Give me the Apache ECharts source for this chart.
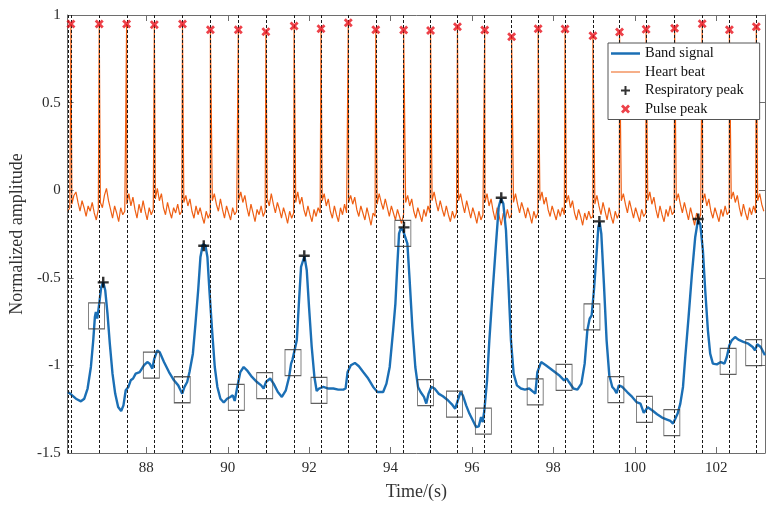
<!DOCTYPE html>
<html>
<head>
<meta charset="utf-8">
<script src="https://cdn.jsdelivr.net/npm/echarts@6/dist/echarts.min.js"></script>
<style>html,body{margin:0;padding:0;background:#fff}#c{width:777px;height:507px}</style>
</head>
<body>
<div id="c"></div>
<script>
// ---- data ----
var xTicks = [88, 90, 92, 94, 96, 98, 100, 102];
var xMin = 86.066, xMax = 103.2;
var yMin = -1.5, yMax = 1, yStep = 0.5;

// pulse (heart) peaks
var pulseT = [86.147, 86.842, 87.515, 88.196, 88.888, 89.574, 90.259, 90.937, 91.630, 92.291,
  92.961, 93.637, 94.322, 94.983, 95.644, 96.314, 96.975, 97.626, 98.287, 98.972,
  99.626, 100.279, 100.979, 101.657, 102.325, 102.986];
var pulseY = [0.949, 0.949, 0.949, 0.945, 0.949, 0.916, 0.916, 0.905, 0.937, 0.922,
  0.956, 0.916, 0.914, 0.912, 0.933, 0.914, 0.876, 0.922, 0.920, 0.882,
  0.903, 0.918, 0.924, 0.950, 0.916, 0.933];

// dashed guide lines (pulse peaks plus the record start)
var guideT = [86.084].concat(pulseT);

// respiratory peaks
var respT = [86.94, 89.41, 91.88, 94.33, 96.72, 99.13, 101.56];
var respY = [-0.526, -0.317, -0.374, -0.212, -0.043, -0.178, -0.164];

// boxed points on the band signal
var boxT = [86.776, 88.122, 88.881, 90.210, 90.908, 91.603, 92.242, 94.302, 94.861, 95.570,
  96.280, 97.553, 98.263, 98.948, 99.536, 100.238, 100.911, 102.294, 102.923];
var boxY = [-0.717, -0.999, -1.139, -1.182, -1.116, -0.984, -1.142, -0.247, -1.155, -1.221,
  -1.318, -1.151, -1.068, -0.723, -1.138, -1.251, -1.326, -0.977, -0.927];

// heart beat baseline samples (start time, sample step, values)
var heartStart = 86.07, heartStep = 0.05;
var heartNoise = [
  -0.12,-0.10,-0.08,-0.03,-0.01,-0.07,-0.12,-0.06,-0.10,-0.15,-0.09,-0.12,-0.07,-0.13,-0.17,-0.11,-0.07,-0.10,-0.03,0.01,
  -0.06,-0.11,-0.16,-0.09,-0.13,-0.18,-0.10,-0.14,-0.12,-0.08,-0.02,-0.09,-0.04,-0.11,-0.16,-0.08,-0.13,-0.06,-0.12,-0.17,
  -0.10,-0.14,-0.11,-0.05,0.01,-0.06,-0.02,-0.10,-0.14,-0.07,-0.12,-0.16,-0.10,-0.13,-0.08,-0.14,-0.12,-0.07,-0.03,-0.09,
  -0.05,-0.12,-0.16,-0.09,-0.14,-0.10,-0.15,-0.19,-0.12,-0.16,-0.13,-0.06,-0.02,-0.08,-0.12,-0.05,-0.11,-0.16,-0.09,-0.13,
  -0.17,-0.10,-0.14,-0.12,-0.06,-0.01,-0.07,-0.03,-0.10,-0.15,-0.08,-0.13,-0.18,-0.11,-0.14,-0.09,-0.15,-0.12,-0.05,-0.09,
  -0.02,-0.08,-0.13,-0.07,-0.11,-0.16,-0.10,-0.14,-0.19,-0.12,-0.16,-0.13,-0.07,-0.01,-0.08,-0.04,-0.11,-0.15,-0.09,-0.14,
  -0.18,-0.11,-0.15,-0.10,-0.13,-0.06,-0.02,-0.09,-0.05,-0.12,-0.16,-0.09,-0.14,-0.18,-0.10,-0.14,-0.08,-0.13,-0.07,-0.03,
  -0.08,-0.04,-0.11,-0.15,-0.09,-0.13,-0.17,-0.10,-0.15,-0.20,-0.13,-0.15,-0.08,-0.02,-0.07,-0.11,-0.05,-0.10,-0.15,-0.09,
  -0.13,-0.17,-0.11,-0.15,-0.19,-0.14,-0.07,-0.03,-0.09,-0.05,-0.12,-0.16,-0.10,-0.14,-0.18,-0.11,-0.15,-0.09,-0.13,-0.06,
  -0.01,-0.07,-0.12,-0.06,-0.11,-0.15,-0.09,-0.14,-0.18,-0.12,-0.16,-0.13,-0.06,-0.02,-0.08,-0.13,-0.06,-0.11,-0.16,-0.10,
  -0.14,-0.19,-0.12,-0.17,-0.14,-0.07,-0.02,-0.09,-0.05,-0.12,-0.17,-0.10,-0.15,-0.20,-0.13,-0.17,-0.11,-0.16,-0.14,-0.07,
  -0.02,-0.08,-0.13,-0.07,-0.11,-0.16,-0.10,-0.14,-0.19,-0.12,-0.16,-0.13,-0.06,-0.01,-0.08,-0.04,-0.11,-0.15,-0.09,-0.13,
  -0.17,-0.11,-0.15,-0.10,-0.14,-0.07,-0.03,-0.10,-0.06,-0.13,-0.17,-0.11,-0.15,-0.20,-0.13,-0.17,-0.12,-0.16,-0.15,-0.08,
  -0.03,-0.09,-0.14,-0.07,-0.12,-0.17,-0.10,-0.15,-0.19,-0.12,-0.16,-0.13,-0.06,-0.02,-0.08,-0.13,-0.06,-0.11,-0.16,-0.10,
  -0.14,-0.18,-0.11,-0.15,-0.13,-0.06,-0.01,-0.08,-0.04,-0.11,-0.16,-0.09,-0.14,-0.18,-0.11,-0.15,-0.09,-0.14,-0.12,-0.06,
  -0.02,-0.08,-0.13,-0.07,-0.12,-0.17,-0.10,-0.15,-0.20,-0.13,-0.17,-0.14,-0.07,-0.02,-0.09,-0.05,-0.12,-0.16,-0.10,-0.14,
  -0.18,-0.11,-0.15,-0.09,-0.14,-0.12,-0.05,-0.01,-0.07,-0.03,-0.10,-0.15,-0.08,-0.13,-0.17,-0.10,-0.14,-0.09,-0.13,-0.06,
  -0.02,-0.08,-0.12
];

// band signal trace [time, amplitude]
var bandSignal = [
  [86.07,-1.152],[86.147,-1.165],[86.270,-1.190],[86.392,-1.205],[86.475,-1.190],[86.556,-1.132],[86.637,-1.009],
  [86.695,-0.857],[86.735,-0.724],[86.759,-0.695],[86.793,-0.733],[86.842,-0.647],[86.891,-0.553],[86.940,-0.524],
  [86.989,-0.571],[87.045,-0.704],[87.102,-0.876],[87.168,-1.047],[87.234,-1.161],[87.307,-1.237],[87.381,-1.260],
  [87.437,-1.228],[87.493,-1.142],[87.559,-1.123],[87.616,-1.085],[87.674,-1.075],[87.738,-1.047],[87.836,-1.038],
  [87.944,-0.999],[88.024,-0.981],[88.081,-0.990],[88.147,-1.018],[88.196,-0.961],[88.269,-0.914],[88.326,-0.924],
  [88.433,-0.981],[88.556,-1.038],[88.678,-1.085],[88.783,-1.114],[88.840,-1.142],[88.881,-1.161],[88.937,-1.123],
  [89.003,-1.095],[89.060,-1.038],[89.143,-0.933],[89.207,-0.761],[89.273,-0.571],[89.329,-0.381],[89.388,-0.309],
  [89.451,-0.315],[89.500,-0.381],[89.549,-0.571],[89.615,-0.800],[89.681,-1.009],[89.745,-1.123],[89.819,-1.190],
  [89.902,-1.212],[89.983,-1.190],[90.063,-1.180],[90.122,-1.171],[90.171,-1.203],[90.227,-1.132],[90.308,-1.038],
  [90.391,-1.009],[90.472,-1.028],[90.594,-1.066],[90.717,-1.095],[90.822,-1.114],[90.881,-1.132],[90.937,-1.095],
  [91.042,-1.075],[91.126,-1.104],[91.231,-1.152],[91.329,-1.180],[91.427,-1.142],[91.507,-1.066],[91.556,-0.990],
  [91.591,-0.967],[91.640,-0.971],[91.696,-0.857],[91.752,-0.628],[91.801,-0.438],[91.884,-0.377],[91.941,-0.457],
  [91.997,-0.667],[92.063,-0.895],[92.129,-1.066],[92.185,-1.146],[92.242,-1.132],[92.291,-1.142],[92.349,-1.123],
  [92.472,-1.132],[92.594,-1.132],[92.716,-1.138],[92.839,-1.138],[92.895,-1.132],[92.944,-1.038],[93.025,-0.999],
  [93.123,-0.986],[93.221,-1.005],[93.328,-1.038],[93.451,-1.075],[93.573,-1.123],[93.678,-1.152],[93.818,-1.152],
  [93.899,-1.104],[93.979,-1.009],[94.063,-0.800],[94.119,-0.647],[94.168,-0.419],[94.209,-0.248],[94.249,-0.219],
  [94.307,-0.229],[94.347,-0.219],[94.413,-0.305],[94.469,-0.514],[94.535,-0.781],[94.608,-1.009],[94.675,-1.123],
  [94.738,-1.152],[94.821,-1.180],[94.878,-1.218],[94.934,-1.161],[95.000,-1.123],[95.081,-1.132],[95.179,-1.161],
  [95.286,-1.176],[95.409,-1.199],[95.507,-1.222],[95.587,-1.247],[95.653,-1.199],[95.717,-1.152],[95.776,-1.171],
  [95.857,-1.228],[95.937,-1.275],[96.020,-1.313],[96.101,-1.352],[96.167,-1.348],[96.224,-1.295],[96.265,-1.323],
  [96.305,-1.256],[96.371,-1.085],[96.427,-0.857],[96.510,-0.571],[96.591,-0.305],[96.657,-0.096],[96.713,-0.048],
  [96.770,-0.076],[96.836,-0.229],[96.892,-0.514],[96.958,-0.857],[97.024,-1.047],[97.105,-1.114],[97.203,-1.132],
  [97.301,-1.138],[97.406,-1.132],[97.448,-1.142],[97.558,-1.161],[97.607,-1.038],[97.700,-0.981],[97.815,-0.999],
  [97.979,-1.028],[98.140,-1.056],[98.263,-1.085],[98.328,-1.075],[98.385,-1.095],[98.493,-1.132],[98.591,-1.138],
  [98.688,-1.104],[98.769,-0.990],[98.835,-0.800],[98.892,-0.733],[98.941,-0.714],[98.997,-0.571],[99.056,-0.381],
  [99.105,-0.210],[99.137,-0.182],[99.178,-0.248],[99.242,-0.533],[99.308,-0.857],[99.374,-1.056],[99.448,-1.123],
  [99.504,-1.138],[99.553,-1.158],[99.609,-1.114],[99.692,-1.123],[99.814,-1.152],[99.937,-1.180],[100.042,-1.209],
  [100.140,-1.218],[100.221,-1.271],[100.318,-1.239],[100.426,-1.256],[100.549,-1.279],[100.671,-1.298],[100.793,-1.309],
  [100.874,-1.317],[100.940,-1.332],[100.996,-1.304],[101.053,-1.275],[101.119,-1.218],[101.185,-1.123],[101.241,-0.952],
  [101.322,-0.724],[101.405,-0.476],[101.486,-0.267],[101.552,-0.172],[101.608,-0.191],[101.674,-0.343],[101.731,-0.571],
  [101.797,-0.800],[101.853,-0.933],[101.919,-0.990],[102.017,-0.994],[102.115,-0.981],[102.203,-0.990],[102.262,-0.952],
  [102.325,-0.885],[102.384,-0.857],[102.465,-0.838],[102.545,-0.853],[102.668,-0.866],[102.790,-0.876],[102.898,-0.895],
  [102.954,-0.914],[103.010,-0.879],[103.094,-0.895],[103.199,-0.942]
];

// ---- build series data ----
var heartData = heartNoise.map(function (v, i) { return [heartStart + i * heartStep, v]; });
pulseT.forEach(function (t, i) { heartData.push([t, pulseY[i]]); });
heartData.sort(function (a, b) { return a[0] - b[0]; });
var pulseData = pulseT.map(function (t, i) { return [t, pulseY[i]]; });
var respData = respT.map(function (t, i) { return [t, respY[i]]; });
var boxData = boxT.map(function (t, i) { return [t, boxY[i]]; });

var FONT = '"Liberation Serif", "DejaVu Serif", serif';
var AXC = '#6e6e6e', TXC = '#2b2b2b';
var plusPath = 'path://M3.9,0H6.1V3.9H10V6.1H6.1V10H3.9V6.1H0V3.9H3.9Z';
var crossPath = 'path://M0,2.2L2.2,0L5,2.8L7.8,0L10,2.2L7.2,5L10,7.8L7.8,10L5,7.2L2.2,10L0,7.8L2.8,5Z';

var chart = echarts.init(document.getElementById('c'), null, { renderer: 'canvas' });
chart.setOption({
  animation: false,
  backgroundColor: '#fff',
  grid: { left: 65, right: 12, top: 15, bottom: 54, containLabel: false },
  legend: {
    left: 608, top: 43, orient: 'vertical', z: 50, zlevel: 1,
    backgroundColor: '#fff', borderColor: '#555', borderWidth: 1,
    padding: [3, 16, 3, 3], itemGap: 3.5, itemWidth: 29, itemHeight: 9, itemTextGap: 2,
    textStyle: { fontFamily: FONT, fontSize: 14.5, color: '#111' },
    data: [
      { name: 'Band signal', icon: 'path://M0,0H58V5H0Z' },
      { name: 'Heart beat', icon: 'path://M0,0H58V2.4H0Z' },
      { name: 'Respiratory peak', icon: plusPath },
      { name: 'Pulse peak', icon: crossPath }
    ]
  },
  xAxis: [{
    type: 'value', min: xMin, max: xMax, position: 'bottom',
    name: 'Time/(s)', nameLocation: 'middle', nameGap: 30,
    nameTextStyle: { fontFamily: FONT, fontSize: 18, color: '#333' },
    axisLine: { show: true, onZero: false, lineStyle: { color: AXC, width: 1 } },
    axisTick: { show: true, inside: true, length: 6, customValues: xTicks, lineStyle: { color: AXC } },
    axisLabel: { customValues: xTicks, fontFamily: FONT, fontSize: 15, color: TXC, margin: 8 },
    splitLine: { show: false }
  }, {
    type: 'value', min: xMin, max: xMax, position: 'top',
    axisLine: { show: true, onZero: false, lineStyle: { color: AXC, width: 1 } },
    axisTick: { show: true, inside: true, length: 6, customValues: xTicks, lineStyle: { color: AXC } },
    axisLabel: { show: false }, splitLine: { show: false }
  }],
  yAxis: [{
    type: 'value', min: yMin, max: yMax, interval: yStep, position: 'left',
    name: 'Normalized amplitude', nameLocation: 'middle', nameGap: 33,
    nameTextStyle: { fontFamily: FONT, fontSize: 18, color: '#333' },
    axisLine: { show: true, onZero: false, lineStyle: { color: AXC, width: 1 } },
    axisTick: { show: true, inside: true, length: 6, lineStyle: { color: AXC } },
    axisLabel: { fontFamily: FONT, fontSize: 15, color: TXC, margin: 7 },
    splitLine: { show: false }
  }, {
    type: 'value', min: yMin, max: yMax, interval: yStep, position: 'right',
    axisLine: { show: true, onZero: false, lineStyle: { color: AXC, width: 1 } },
    axisTick: { show: true, inside: true, length: 6, lineStyle: { color: AXC } },
    axisLabel: { show: false }, splitLine: { show: false }
  }],
  series: [
    {
      name: 'Heart beat', type: 'line', data: heartData, showSymbol: false, symbol: 'none',
      lineStyle: { color: '#ee5f14', width: 1.2 }, itemStyle: { color: '#f07a3a' }, z: 2
    },
    {
      name: 'guides', type: 'line', data: [], z: 3,
      markLine: {
        silent: true, symbol: ['none', 'none'], label: { show: false },
        lineStyle: { color: '#1a1a1a', width: 1, type: [3, 2] },
        data: guideT.map(function (t) { return { xAxis: t }; })
      }
    },
    {
      name: 'Band signal', type: 'line', data: bandSignal, showSymbol: false, symbol: 'none',
      lineStyle: { color: '#1b6fb5', width: 2.4 }, itemStyle: { color: '#1b6fb5' }, z: 4
    },
    {
      name: 'boxes', type: 'scatter', data: boxData, symbol: 'rect', symbolSize: [16, 26],
      itemStyle: { color: 'rgba(0,0,0,0)', borderColor: '#3a3a3a', borderWidth: 1 }, z: 5
    },
    {
      name: 'Respiratory peak', type: 'scatter', data: respData, symbol: plusPath, symbolSize: 11,
      itemStyle: { color: '#000' }, z: 6
    },
    {
      name: 'Pulse peak', type: 'scatter', data: pulseData, symbol: crossPath, symbolSize: 9,
      itemStyle: { color: '#e8121b' }, z: 6
    }
  ]
});
</script>
</body>
</html>
